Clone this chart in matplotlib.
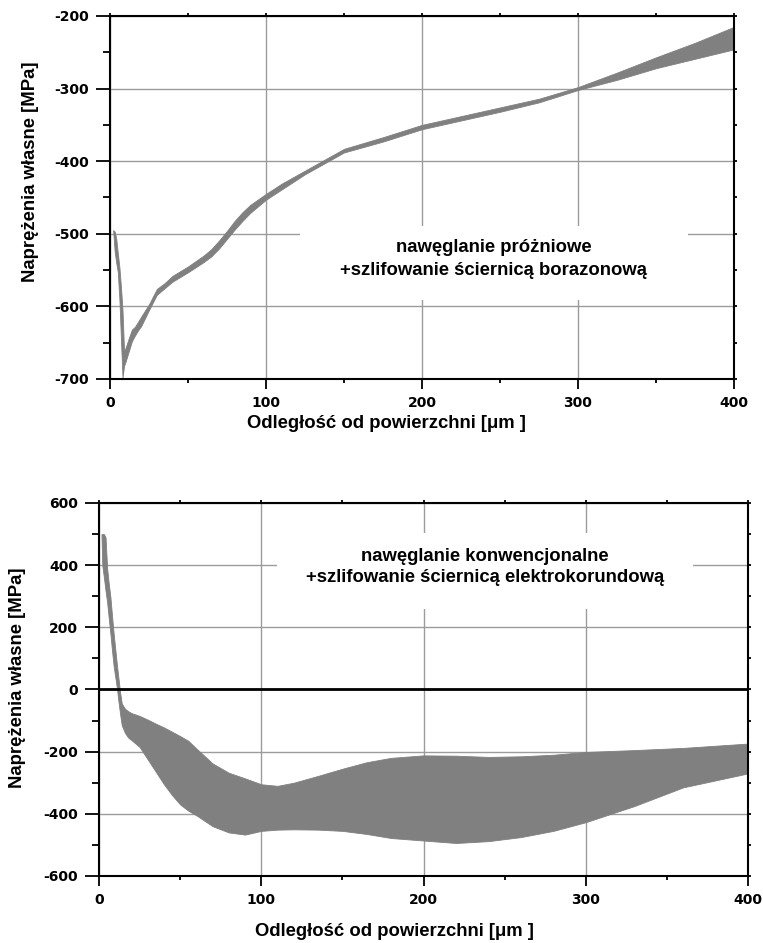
import matplotlib
matplotlib.use("Agg")
import matplotlib.pyplot as plt
from matplotlib.patches import Rectangle
from matplotlib.ticker import MultipleLocator

plt.rcParams["axes.unicode_minus"] = False

# top panel: vacuum carburising + CBN grinding
x_top = [2, 3, 4, 5, 6, 7, 8, 9, 10, 12, 14, 16, 18, 20, 25, 30, 35, 40, 50, 60,
         65, 70, 75, 80, 85, 90, 100, 110, 125, 150, 175, 200, 225, 250, 275,
         300, 325, 350, 375, 400]
top_upper = [-495, -497, -507, -527, -546, -573, -605, -662, -657, -644, -632,
             -628, -621, -614, -597, -576, -568, -558, -545, -530, -521, -509,
             -496, -482, -470, -460, -445, -431, -413, -383, -367, -350, -338,
             -326, -314, -298, -278, -257, -237, -215]
top_lower = [-495, -525, -540, -553, -590, -645, -698, -682, -676, -662, -648,
             -640, -633, -627, -605, -584, -575, -566, -553, -539, -531, -520,
             -507, -494, -482, -471, -453, -439, -418, -388, -373, -356, -344,
             -332, -319, -302, -288, -272, -259, -246]

# bottom panel: conventional carburising + corundum grinding
x_bot = [1.5, 2, 3, 4, 5, 6, 7, 8, 9, 10, 11, 12, 13, 14, 16, 18, 20, 25, 30,
         35, 40, 45, 50, 55, 60, 70, 80, 90, 100, 110, 120, 135, 150, 165, 180,
         200, 220, 240, 260, 280, 300, 330, 360, 400]
bot_upper = [500, 500, 500, 490, 390, 340, 298, 237, 180, 130, 80, 35, -10, -45,
             -62, -70, -76, -85, -97, -110, -122, -136, -150, -165, -190, -238,
             -268, -286, -305, -310, -300, -278, -255, -234, -220, -212, -213,
             -217, -215, -210, -201, -195, -188, -174]
bot_lower = [500, 400, 360, 318, 280, 228, 180, 125, 75, 40, 5, -40, -80, -115,
             -140, -155, -163, -185, -225, -265, -305, -340, -370, -390, -405,
             -440, -460, -467, -455, -451, -450, -451, -455, -465, -478, -486,
             -494, -488, -475, -455, -427, -375, -315, -270]

xlabel = "Odległość od powierzchni [μm ]"
ylabel = "Naprężenia własne [MPa]"
note_top = "nawęglanie próżniowe\n+szlifowanie ściernicą borazonową"
note_bot = "nawęglanie konwencjonalne\n+szlifowanie ściernicą elektrokorundową"

BAND = "#808080"
LABEL_FONT = dict(family="Liberation Sans", weight="bold", size=13.3)
NOTE_FONT = dict(family="Liberation Sans", weight="bold", size=13.3)


def style_axes(ax, ylim, ymajor):
    ax.set_xlim(0, 400)
    ax.set_ylim(*ylim)
    ax.xaxis.set_major_locator(MultipleLocator(100))
    ax.xaxis.set_minor_locator(MultipleLocator(50))
    ax.yaxis.set_major_locator(MultipleLocator(ymajor))
    ax.yaxis.set_minor_locator(MultipleLocator(ymajor / 2))
    for s in ax.spines.values():
        s.set_linewidth(1.5)
    ax.tick_params(which="both", direction="out", width=1.3,
                   top=True, right=True)
    ax.tick_params(axis="y", which="major", length=10, pad=5)
    ax.tick_params(axis="y", which="minor", length=5)
    ax.tick_params(axis="x", which="major", length=7, pad=5)
    ax.tick_params(axis="x", which="minor", length=3)
    # the opposite sides only get tiny marks
    for axis in (ax.xaxis, ax.yaxis):
        for tick in axis.get_major_ticks() + axis.get_minor_ticks():
            tick.tick2line.set_markersize(2)
    ax.tick_params(labelsize=10)
    for lab in ax.get_xticklabels() + ax.get_yticklabels():
        lab.set_fontfamily("DejaVu Sans")
        lab.set_fontweight("bold")
    ax.grid(True, which="major", color="#9c9c9c", linewidth=1.0)
    ax.set_axisbelow(True)
    ax.set_xlabel(xlabel, **LABEL_FONT)
    ax.set_ylabel(ylabel, **LABEL_FONT)


def note(ax, text, box, center, spacing):
    x0, y0, x1, y1 = box
    ax.add_patch(Rectangle((x0, y0), x1 - x0, y1 - y0, transform=ax.transAxes,
                           facecolor="white", edgecolor="none", zorder=1))
    ax.text(*center, text, transform=ax.transAxes, ha="center", va="center",
            linespacing=spacing, zorder=3, **NOTE_FONT)


fig = plt.figure(figsize=(7.63, 9.43), dpi=100)

ax1 = fig.add_axes([0.1442, 0.5981, 0.8178, 0.385])
ax1.fill_between(x_top, top_lower, top_upper, color=BAND, linewidth=0.6,
                 edgecolor=BAND, zorder=2)
style_axes(ax1, (-700, -200), 100)
note(ax1, note_top, (0.3045, 0.2176, 0.926, 0.4215), (0.615, 0.3306), 1.45)
ax1.xaxis.set_label_coords(0.443, -0.1)
ax1.yaxis.set_label_coords(-0.114, 0.57)

ax2 = fig.add_axes([0.1298, 0.0711, 0.8506, 0.3955])
ax2.fill_between(x_bot, bot_lower, bot_upper, color=BAND, linewidth=0.6,
                 edgecolor=BAND, zorder=2)
style_axes(ax2, (-600, 600), 200)
ax2.axhline(0, color="black", linewidth=2, zorder=3)
note(ax2, note_bot, (0.274, 0.716, 0.915, 0.9196), (0.595, 0.828), 1.35)
ax2.xaxis.set_label_coords(0.455, -0.125)
ax2.yaxis.set_label_coords(-0.112, 0.531)

fig.savefig("out.png", dpi=100, facecolor="white")
